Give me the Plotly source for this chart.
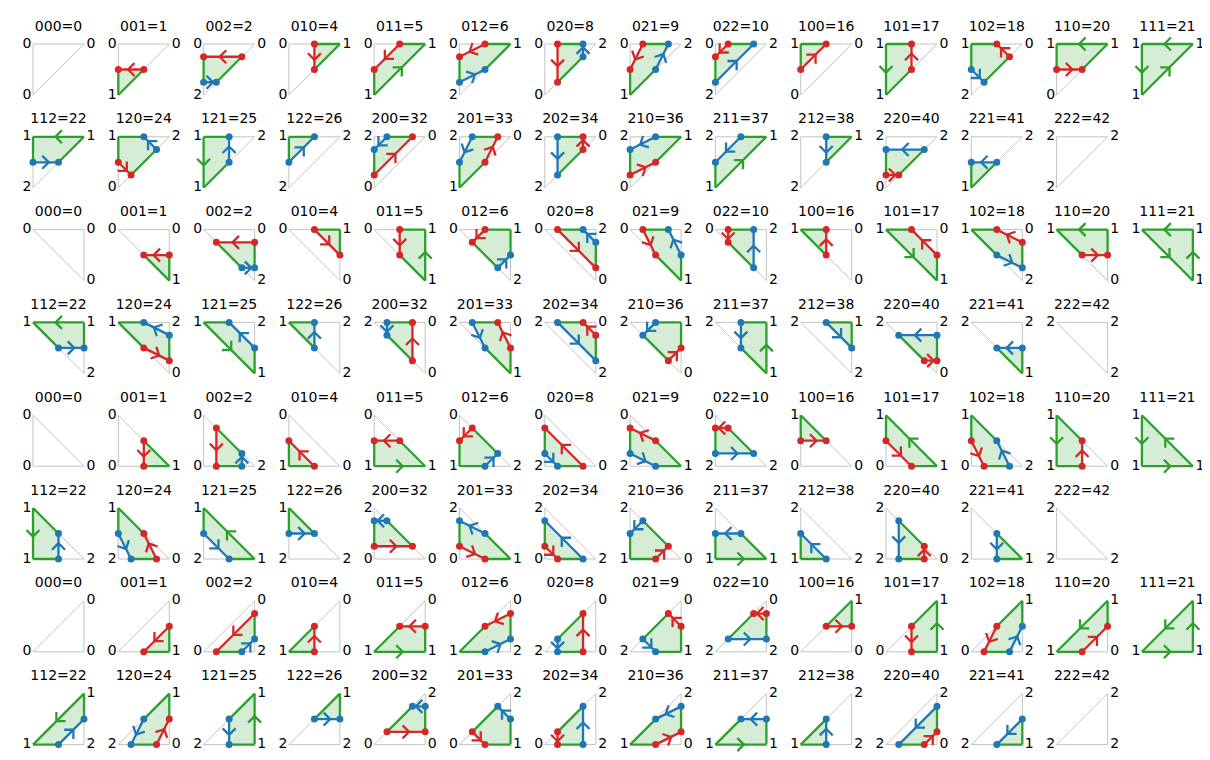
import plotly.graph_objects as go

# ---------------- data ----------------
case_codes = ["000", "001", "002", "010", "011", "012", "020", "021", "022",
              "100", "101", "102", "110", "111", "112", "120", "121", "122",
              "200", "201", "202", "210", "211", "212", "220", "221", "222"]
case_ids = [0, 1, 2, 4, 5, 6, 8, 9, 10, 16, 17, 18, 20, 21, 22, 24, 25, 26,
            32, 33, 34, 36, 37, 38, 40, 41, 42]
iso_levels = [0.5, 1.5]            # lower (red) and upper (blue) isolines
iso_colors = ["#d62728", "#1f77b4"]

# triangle orientation of each block: unit-square corners for vertices a, b, c
block_corners = [
    [(0, 1), (1, 1), (0, 0)],   # TL, TR, BL
    [(0, 1), (1, 1), (1, 0)],   # TL, TR, BR
    [(0, 1), (0, 0), (1, 0)],   # TL, BL, BR
    [(1, 1), (0, 0), (1, 0)],   # TR, BL, BR
]

# ---------------- layout / style ----------------
W, H = 1210, 760
X0, DX = 25.0, 85.3
Y0, DY = 36.0, 92.8
S = 51.0            # panel size in px
PAD = 0.2           # side / bottom padding (fraction of panel)
PAD_TOP = 0.5       # room for the title
PER_ROW = 14
GREEN = "#2ca02c"
FILL = "rgba(44,160,44,0.2)"
GRAY = "#c4c4c4"
LW = 2.3
FONT = dict(family="DejaVu Sans", size=14, color="black")


def interp(P, Q, level):
    t = (level - P[2]) / (Q[2] - P[2])
    return (P[0] + t * (Q[0] - P[0]), P[1] + t * (Q[1] - P[1]), level, level)


def clip(poly, level, keep_above):
    out = []
    n = len(poly)
    for i in range(n):
        P, Q = poly[i], poly[(i + 1) % n]
        pin = P[2] >= level if keep_above else P[2] <= level
        qin = Q[2] >= level if keep_above else Q[2] <= level
        if pin and qin:
            out.append(Q)
        elif pin and not qin:
            out.append(interp(P, Q, level))
        elif (not pin) and qin:
            out.append(interp(P, Q, level))
            out.append(Q)
    return out


def chevron(P, Q):
    mx, my = (P[0] + Q[0]) / 2, (P[1] + Q[1]) / 2
    dx, dy = Q[0] - P[0], Q[1] - P[1]
    L = (dx * dx + dy * dy) ** 0.5
    dx, dy = dx / L, dy / L
    nx, ny = -dy, dx
    tip = (mx + 3.0 / S * dx, my + 3.0 / S * dy)
    bx, by = tip[0] - 6.5 / S * dx, tip[1] - 6.5 / S * dy
    w1 = (bx + 6.5 / S * nx, by + 6.5 / S * ny)
    w2 = (bx - 6.5 / S * nx, by - 6.5 / S * ny)
    return [w1[0], tip[0], w2[0], None], [w1[1], tip[1], w2[1], None]


traces = []
layout = dict(width=W, height=H, margin=dict(l=0, r=0, t=0, b=0),
              paper_bgcolor="white", plot_bgcolor="rgba(0,0,0,0)", showlegend=False,
              hovermode=False)

panel = 0
for b, corners in enumerate(block_corners):
    for k, code in enumerate(case_codes):
        panel += 1
        row = 2 * b + k // PER_ROW
        col = k % PER_ROW
        left = X0 + DX * col
        top = Y0 + DY * row
        xa, ya = f"x{panel}", f"y{panel}"
        sfx = "" if panel == 1 else str(panel)
        layout["xaxis" + sfx] = dict(
            domain=[(left - PAD * S) / W, (left + S + PAD * S) / W],
            range=[-PAD, 1 + PAD], visible=False, anchor=ya, fixedrange=True)
        layout["yaxis" + sfx] = dict(
            domain=[1 - (top + S + PAD * S) / H, 1 - (top - PAD_TOP * S) / H],
            range=[-PAD, 1 + PAD_TOP], visible=False, anchor=xa, fixedrange=True)

        vals = [int(ch) for ch in code]
        verts = [(corners[i][0], corners[i][1], vals[i], "V") for i in range(3)]
        # make counter-clockwise
        area = sum(verts[i][0] * verts[(i + 1) % 3][1] - verts[(i + 1) % 3][0] * verts[i][1]
                   for i in range(3))
        if area < 0:
            verts = verts[::-1]

        common = dict(xaxis=xa, yaxis=ya, hoverinfo="skip", cliponaxis=False)

        # grey triangle outline
        traces.append(go.Scatter(
            x=[v[0] for v in verts] + [verts[0][0]],
            y=[v[1] for v in verts] + [verts[0][1]],
            mode="lines", line=dict(color=GRAY, width=1), **common))

        poly = clip(verts, iso_levels[0], True)
        if poly:
            poly = clip(poly, iso_levels[1], False)

        if len(poly) >= 3:
            traces.append(go.Scatter(
                x=[p[0] for p in poly] + [poly[0][0]],
                y=[p[1] for p in poly] + [poly[0][1]],
                mode="lines", fill="toself", fillcolor=FILL,
                line=dict(width=0, color=FILL), **common))

            gx, gy = [], []
            iso_xy = [([], []), ([], [])]
            dots = {0: [], 1: []}
            m = len(poly)
            for i in range(m):
                P, Q = poly[i], poly[(i + 1) % m]
                if P[3] != "V" and P[3] == Q[3]:
                    li = iso_levels.index(P[3])
                    lx, ly = iso_xy[li]
                    lx += [P[0], Q[0], None]
                    ly += [P[1], Q[1], None]
                    cx, cy = chevron(P, Q)
                    lx += cx
                    ly += cy
                    dots[li] += [P, Q]
                else:
                    gx += [P[0], Q[0], None]
                    gy += [P[1], Q[1], None]
                    if P[3] == "V" and Q[3] == "V":
                        cx, cy = chevron(P, Q)
                        gx += cx
                        gy += cy
            if gx:
                traces.append(go.Scatter(x=gx, y=gy, mode="lines",
                                         line=dict(color=GREEN, width=LW), **common))
            for li in range(2):
                lx, ly = iso_xy[li]
                if lx:
                    traces.append(go.Scatter(x=lx, y=ly, mode="lines",
                                             line=dict(color=iso_colors[li], width=LW), **common))
            dx_, dy_, dc_ = [], [], []
            for li in range(2):
                for p in dots[li]:
                    dx_.append(p[0]); dy_.append(p[1]); dc_.append(iso_colors[li])
            if dx_:
                traces.append(go.Scatter(x=dx_, y=dy_, mode="markers",
                                         marker=dict(size=7, color=dc_), **common))

        # corner labels + title
        tx, ty, tt = [], [], []
        for v in verts:
            tx.append(-6.0 / S if v[0] == 0 else 1 + 7.0 / S)
            ty.append(v[1])
            tt.append(str(v[2]))
        tx.append(0.5)
        ty.append(1 + 17.0 / S)
        tt.append(f"{code}={case_ids[k]}")
        traces.append(go.Scatter(x=tx, y=ty, text=tt, mode="text",
                                 textposition="middle center", textfont=FONT, **common))

fig = go.Figure(data=traces, layout=layout)
fig.write_html("out.html")
